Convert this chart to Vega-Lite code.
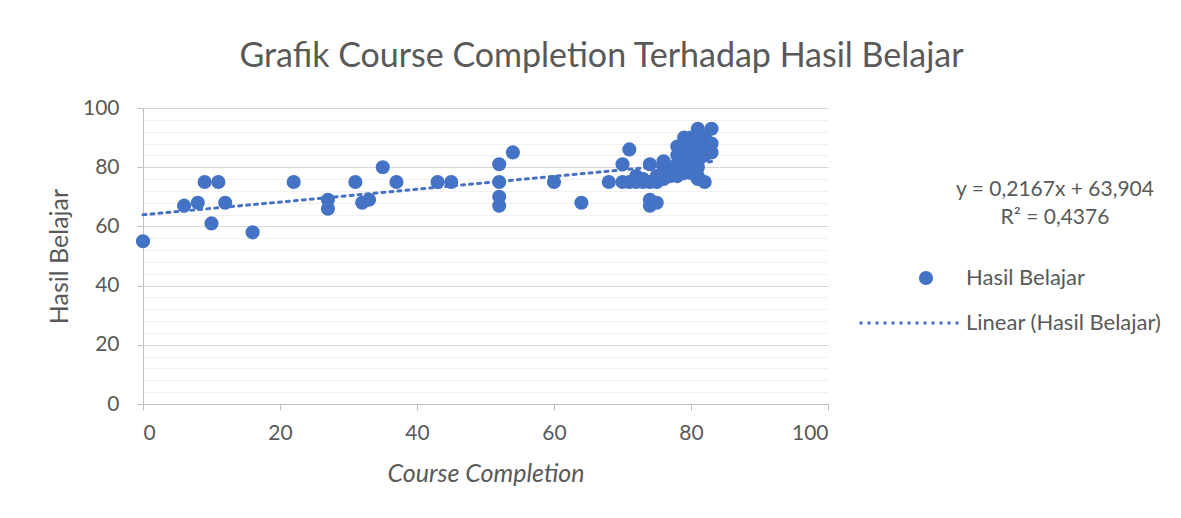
{
  "$schema": "https://vega.github.io/schema/vega-lite/v6.json",
  "autosize": {"type": "none"},
  "width": 685,
  "height": 296,
  "padding": {"left": 143, "top": 108, "right": 353, "bottom": 114},
  "background": "#ffffff",
  "title": {
    "text": "Grafik Course Completion Terhadap Hasil Belajar",
    "font": "Lato",
    "fontSize": 34,
    "fontWeight": "normal",
    "color": "#595959",
    "anchor": "middle",
    "dx": 116,
    "offset": 23
  },
  "datasets": {
    "points": [
      {"course": 0, "hasil": 55}, {"course": 6, "hasil": 67}, {"course": 8, "hasil": 68},
      {"course": 9, "hasil": 75}, {"course": 10, "hasil": 61}, {"course": 11, "hasil": 75},
      {"course": 12, "hasil": 68}, {"course": 16, "hasil": 58}, {"course": 22, "hasil": 75},
      {"course": 27, "hasil": 69}, {"course": 27, "hasil": 66}, {"course": 31, "hasil": 75},
      {"course": 32, "hasil": 68}, {"course": 33, "hasil": 69}, {"course": 35, "hasil": 80},
      {"course": 37, "hasil": 75}, {"course": 43, "hasil": 75}, {"course": 45, "hasil": 75},
      {"course": 52, "hasil": 81}, {"course": 52, "hasil": 75}, {"course": 52, "hasil": 70},
      {"course": 52, "hasil": 67}, {"course": 54, "hasil": 85}, {"course": 60, "hasil": 75},
      {"course": 64, "hasil": 68},
      {"course": 68, "hasil": 75}, {"course": 70, "hasil": 81}, {"course": 70, "hasil": 75},
      {"course": 71, "hasil": 86}, {"course": 71, "hasil": 75}, {"course": 72, "hasil": 77},
      {"course": 72, "hasil": 75}, {"course": 73, "hasil": 76}, {"course": 73, "hasil": 75},
      {"course": 74, "hasil": 81}, {"course": 74, "hasil": 75}, {"course": 74, "hasil": 69},
      {"course": 74, "hasil": 67}, {"course": 75, "hasil": 77}, {"course": 75, "hasil": 76},
      {"course": 75, "hasil": 75}, {"course": 75, "hasil": 68}, {"course": 76, "hasil": 82},
      {"course": 76, "hasil": 80}, {"course": 76, "hasil": 78}, {"course": 76, "hasil": 76},
      {"course": 77, "hasil": 80}, {"course": 77, "hasil": 78}, {"course": 77, "hasil": 77},
      {"course": 78, "hasil": 87}, {"course": 78, "hasil": 84}, {"course": 78, "hasil": 81},
      {"course": 78, "hasil": 77}, {"course": 79, "hasil": 90}, {"course": 79, "hasil": 87},
      {"course": 79, "hasil": 85}, {"course": 79, "hasil": 82}, {"course": 79, "hasil": 80},
      {"course": 79, "hasil": 78}, {"course": 80, "hasil": 90}, {"course": 80, "hasil": 88},
      {"course": 80, "hasil": 86}, {"course": 80, "hasil": 84}, {"course": 80, "hasil": 82},
      {"course": 80, "hasil": 80}, {"course": 80, "hasil": 78}, {"course": 81, "hasil": 93},
      {"course": 81, "hasil": 91}, {"course": 81, "hasil": 89}, {"course": 81, "hasil": 87},
      {"course": 81, "hasil": 85}, {"course": 81, "hasil": 83}, {"course": 81, "hasil": 80},
      {"course": 81, "hasil": 77}, {"course": 81, "hasil": 76}, {"course": 82, "hasil": 90},
      {"course": 82, "hasil": 88}, {"course": 82, "hasil": 86}, {"course": 82, "hasil": 84},
      {"course": 82, "hasil": 75}, {"course": 83, "hasil": 93}, {"course": 83, "hasil": 88},
      {"course": 83, "hasil": 85}
    ],
    "trend": [
      {"course": 0, "hasil": 63.904},
      {"course": 83, "hasil": 81.89}
    ]
  },
  "resolve": {"axis": {"y": "independent"}},
  "layer": [
    {
      "data": {"name": "trend"},
      "mark": {"type": "point", "opacity": 0},
      "encoding": {
        "x": {"field": "course", "type": "quantitative"},
        "y": {
          "field": "hasil", "type": "quantitative",
          "axis": {
            "orient": "left",
            "title": null,
            "values": [4, 8, 12, 16, 24, 28, 32, 36, 44, 48, 52, 56, 64, 68, 72, 76, 84, 88, 92, 96],
            "labels": false, "ticks": false, "domain": false,
            "grid": true, "gridColor": "#f0f0f0", "gridWidth": 1
          }
        },
        "shape": {
          "datum": "persamaan", "type": "nominal",
          "scale": {"domain": ["persamaan"], "range": ["circle"]},
          "legend": {
            "orient": "none",
            "legendX": 813,
            "legendY": 71,
            "title": ["y = 0,2167x + 63,904", "R² = 0,4376"],
            "titleAlign": "center",
            "titleAnchor": "middle",
            "titleFont": "Lato", "titleFontSize": 21, "titleFontWeight": "normal",
            "titleColor": "#595959", "titleLineHeight": 28, "titlePadding": 0,
            "titleLimit": 400,
            "labelExpr": "''",
            "labelOffset": 0,
            "symbolSize": 1,
            "symbolOpacity": 0
          }
        }
      }
    },
    {
      "data": {"name": "points"},
      "mark": {"type": "point", "filled": true, "size": 200, "opacity": 1, "shape": "circle"},
      "encoding": {
        "x": {
          "field": "course", "type": "quantitative",
          "scale": {"domain": [0, 100], "nice": false},
          "axis": {
            "title": "Course Completion",
            "titleFont": "Lato", "titleFontSize": 25, "titleFontStyle": "italic", "titleFontWeight": "normal",
            "titleColor": "#595959", "titlePadding": 18,
            "values": [0, 20, 40, 60, 80, 100],
            "labelFont": "Lato", "labelFontSize": 21, "labelColor": "#595959", "labelPadding": 12,
            "grid": false,
            "domainColor": "#bfbfbf", "tickColor": "#bfbfbf", "tickSize": 6
          }
        },
        "y": {
          "field": "hasil", "type": "quantitative",
          "scale": {"domain": [0, 100], "nice": false},
          "axis": {
            "orient": "left",
            "title": "Hasil Belajar",
            "titleFont": "Lato", "titleFontSize": 25, "titleFontWeight": "normal",
            "titleColor": "#595959", "titlePadding": 10,
            "values": [0, 20, 40, 60, 80, 100],
            "labelFont": "Lato", "labelFontSize": 21, "labelColor": "#595959", "labelPadding": 18,
            "grid": true, "gridColor": "#d9d9d9",
            "domainColor": "#bfbfbf", "tickColor": "#bfbfbf", "tickSize": 6
          }
        },
        "color": {
          "datum": "Hasil Belajar", "type": "nominal",
          "scale": {"domain": ["Hasil Belajar"], "range": ["#4472C4"]},
          "legend": {
            "orient": "none",
            "legendX": 772,
            "legendY": 159,
            "title": null,
            "labelFont": "Lato", "labelFontSize": 22, "labelColor": "#595959",
            "labelLimit": 400,
            "labelOffset": 29, "symbolSize": 200, "symbolType": "circle"
          }
        }
      }
    },
    {
      "data": {"name": "trend"},
      "mark": {"type": "line", "strokeWidth": 3, "strokeDash": [0.5, 7.5], "strokeCap": "round", "color": "#4472C4"},
      "encoding": {
        "x": {"field": "course", "type": "quantitative"},
        "y": {"field": "hasil", "type": "quantitative", "axis": null},
        "strokeDash": {
          "datum": "Linear (Hasil Belajar)", "type": "nominal",
          "scale": {"domain": ["Linear (Hasil Belajar)"], "range": [[3, 5]]},
          "legend": {
            "orient": "none",
            "legendX": 715,
            "legendY": 164,
            "title": null,
            "labelFont": "Lato", "labelFontSize": 22, "labelColor": "#595959",
            "labelLimit": 400,
            "labelOffset": 6,
            "symbolType": "stroke",
            "symbolSize": 9801,
            "symbolStrokeWidth": 3,
            "symbolStrokeColor": "#4472C4"
          }
        }
      }
    }
  ],
  "config": {
    "view": {"stroke": null},
    "axis": {"labelFont": "Lato", "titleFont": "Lato"}
  }
}
